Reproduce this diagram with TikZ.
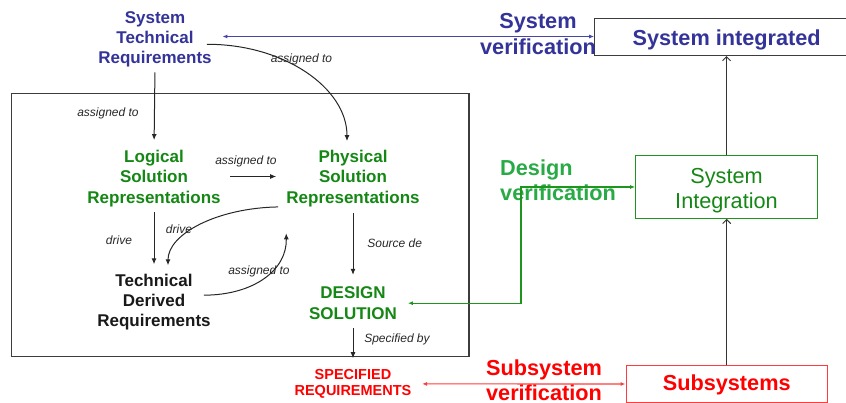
\documentclass[tikz,border=0pt]{standalone}
\usepackage{fontspec}
\setmainfont{Liberation Sans}
\usetikzlibrary{arrows.meta,calc}
\definecolor{bluT}{RGB}{51,51,153}
\definecolor{bluL}{RGB}{70,70,170}
\definecolor{grnT}{RGB}{20,135,20}
\definecolor{grnL}{RGB}{40,170,70}
\definecolor{grnB}{RGB}{30,150,30}
\definecolor{redT}{RGB}{255,0,0}
\definecolor{redB}{RGB}{255,60,60}
\definecolor{grayB}{RGB}{60,60,60}
\definecolor{lblC}{RGB}{40,40,40}
\begin{document}
\begin{tikzpicture}[x=1pt,y=-1pt,
  bigtxt/.style={font=\fontsize{17}{20.3}\selectfont\bfseries, align=center, inner sep=0pt},
  lbl/.style={font=\fontsize{12}{14}\selectfont\itshape, text=lblC, inner sep=0pt, anchor=base},
  vlab/.style={font=\fontsize{21.7}{26}\selectfont\bfseries, inner sep=0pt},
  boxtxt/.style={font=\fontsize{21.7}{25}\selectfont, inner sep=0pt, line width=1.1pt},
  arr/.style={-{Latex[length=6pt,width=5pt]}, line width=1pt, draw=black!85},
  darr/.style={{Latex[length=5pt,width=4pt]}-{Latex[length=5pt,width=4pt]}, line width=1.1pt},
  uparr/.style={-{Straight Barb[length=4pt,width=8pt]}, line width=1pt, draw=black!80}
]
\useasboundingbox (0,0) rectangle (846,403);

% frame
\draw[grayB, line width=1.1pt] (11.7,93.3) rectangle (469,356.7);

% text nodes
\node[bigtxt, text=bluT] (str) at (155,39.3) {System\\Technical\\Requirements};
\node[bigtxt, text=grnT] (log) at (154,178.5) {Logical\\Solution\\Representations};
\node[bigtxt, text=grnT] (phy) at (353,178.5) {Physical\\Solution\\Representations};
\node[bigtxt, text=black!90] (tdr) at (154,302.2) {Technical\\Derived\\Requirements};
\node[bigtxt, text=grnT] (des) at (353,303.2) {DESIGN\\SOLUTION};
\node[font=\fontsize{14.5}{16}\selectfont\bfseries, align=center, inner sep=0pt, text=redT] (spec) at (353,383.9) {SPECIFIED\\REQUIREMENTS};

% right boxes
\node[boxtxt, draw=grayB, text=bluT, font=\fontsize{21.7}{25}\selectfont\bfseries, text depth=0pt, minimum width=264, minimum height=36.6] (sysd) at (726.7,37.2) {System integrated};
\node[boxtxt, draw=grnB, minimum width=181.6, minimum height=62.6] (sint) at (726.5,187) {};
\node[font=\fontsize{21.7}{25}\selectfont, inner sep=0pt, text=grnT, align=center] (sintT) at (726.5,190.5) {System\\Integration};
\node[boxtxt, draw=redB, text=redT, font=\fontsize{21.7}{25}\selectfont\bfseries, text depth=2pt, minimum width=201.3, minimum height=36.6] (subs) at (726.7,384) {Subsystems};

% verification labels
\node[vlab, text=bluT, align=center] (sv) at (538,34.3) {System\\verification};
\node[vlab, font=\fontsize{21.7}{25}\selectfont\bfseries, text=grnL, align=left, anchor=west] (dv) at (500,179.8) {Design\\verification};
\node[vlab, font=\fontsize{21.7}{25}\selectfont\bfseries, text=redT, align=center] (ssv) at (544,380.3) {Subsystem\\verification};

% small labels
\node[lbl] (l1) at (108,116.7) {assigned to};
\node[lbl] (l2) at (301.5,62.3) {assigned to};
\node[lbl] (l3) at (246,165) {assigned to};
\node[lbl] (l4) at (119,245) {drive};
\node[lbl] (l5) at (179,234) {drive};
\node[lbl] (l6) at (259,275) {assigned to};
\node[lbl] (l7) at (394.7,247.3) {Source de};
\node[lbl] (l8) at (397,342.3) {Specified by};

% black arrows
\draw[arr, shorten <=5pt, shorten >=10pt] (str.south) -- (log.north);
\draw[arr] ([xshift=-5pt,yshift=-5pt]str.east) .. controls (284,44) and (347,88) .. ([xshift=-6pt,yshift=9pt]phy.north);
\draw[arr, shorten <=9.5pt, shorten >=10pt] ([yshift=2pt]log.east) -- ([yshift=2pt]phy.west);
\draw[arr, shorten <=5pt, shorten >=9.5pt] (log.south) -- (tdr.north);
\draw[arr] ([xshift=-8pt]phy.south west) .. controls (217,208) and (168,234) .. ([xshift=14pt,yshift=8.5pt]tdr.north);
\draw[arr] ([xshift=-7pt,yshift=7pt]tdr.east) .. controls (254,295) and (287,270) .. ([yshift=-26.4pt]phy.south west);
\draw[arr, shorten <=6.4pt, shorten >=12pt] (phy.south) -- (des.north);
\draw[arr, shorten <=8.4pt, shorten >=11pt] (des.south) -- (spec.north);

% right vertical arrows
\draw[uparr] (subs.north) -- (subs.north |- sint.south);
\draw[uparr] (sint.north) -- (sint.north |- sysd.south);

% verification connectors
\coordinate (bl) at ([yshift=2.8pt]str.east);
\draw[darr, bluL, shorten <=10.5pt] (bl) -- (bl -| sysd.west);
\coordinate (gx) at (521,250);
\draw[darr, grnB, shorten <=10.8pt] (des.east) -| (gx) |- (sint.west);
\draw[darr, redB, shorten <=10.5pt] (spec.east) -- (subs.west);
\end{tikzpicture}
\end{document}
